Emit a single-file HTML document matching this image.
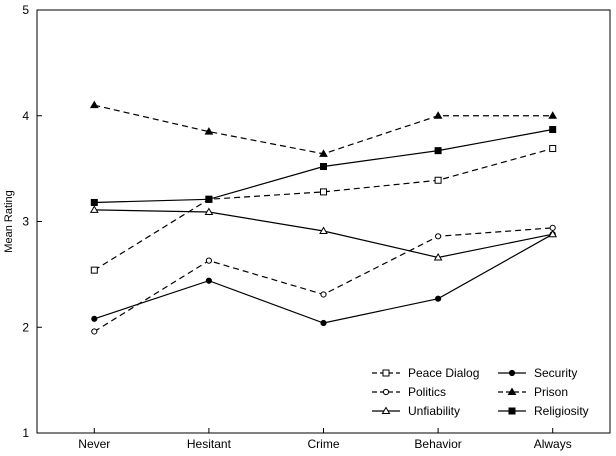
<!DOCTYPE html>
<html><head><meta charset="utf-8"><style>
html,body{margin:0;padding:0;background:#fff;}
svg{display:block;font-family:"Liberation Sans",Arial,sans-serif;}
</style></head><body>
<svg id="chart" width="616" height="456" viewBox="0 0 616 456" xmlns="http://www.w3.org/2000/svg"></svg>
<script>
const categories = ["Never","Hesitant","Crime","Behavior","Always"];
const yTicks = [1,2,3,4,5];
const peaceDialog = [2.54,3.21,3.28,3.39,3.69];
const security = [2.08,2.44,2.04,2.27,2.88];
const politics = [1.96,2.63,2.31,2.86,2.94];
const prison = [4.10,3.85,3.64,4.00,4.00];
const unfiability = [3.11,3.09,2.91,2.66,2.88];
const religiosity = [3.18,3.21,3.52,3.67,3.87];

const NS="http://www.w3.org/2000/svg";
const svg=document.getElementById('chart');
const L=37,R=610,T=10,B=433;
function x(i){return L+(i+0.5)*(R-L)/categories.length;}
function y(v){return B-(v-1)*(B-T)/4;}
function mk(tag,attrs,parent){const e=document.createElementNS(NS,tag);for(const k in attrs)e.setAttribute(k,attrs[k]);(parent||svg).appendChild(e);return e;}

const frame=mk('rect',{x:L,y:T,width:R-L,height:B-T,fill:'none',stroke:'#000','stroke-width':1});



yTicks.forEach(v=>{
  const t=mk('line',{x1:L,x2:L+5,y1:y(v),y2:y(v),stroke:'#000'});
  
  
  const lb=mk('text',{x:L-8,y:y(v)+4,'text-anchor':'end','font-size':12});
  lb.textContent=v;
  
  
});
categories.forEach((c,i)=>{
  const t=mk('line',{x1:x(i),x2:x(i),y1:B,y2:B-5,stroke:'#000'});
  
  
  const lb=mk('text',{x:x(i),y:B+15,'text-anchor':'middle','font-size':12});
  lb.textContent=c;
  
  
});
const yt=mk('text',{x:12,y:(T+B)/2,'text-anchor':'middle','font-size':11,transform:`rotate(-90 12 ${(T+B)/2})`});
yt.textContent='Mean Rating';



function marker(g,type,cx,cy){
  const fill=type.filled?'#000':'#fff';
  if(type.shape==='square') mk('rect',{x:cx-3,y:cy-3,width:6,height:6,fill,stroke:'#000'},g);
  else if(type.shape==='circle') mk('circle',{cx,cy,r:2.6,fill,stroke:'#000'},g);
  else mk('polygon',{points:`${cx},${cy-3.5} ${cx-3.5},${cy+2.5} ${cx+3.5},${cy+2.5}`,fill,stroke:'#000'},g);
}
const series=[
 {name:'Peace Dialog',data:peaceDialog,dash:true,shape:'square',filled:false,key:'peace-dialog'},
 {name:'Security',data:security,dash:false,shape:'circle',filled:true,key:'security'},
 {name:'Politics',data:politics,dash:true,shape:'circle',filled:false,key:'politics'},
 {name:'Prison',data:prison,dash:true,shape:'triangle',filled:true,key:'prison'},
 {name:'Unfiability',data:unfiability,dash:false,shape:'triangle',filled:false,key:'unfiability'},
 {name:'Religiosity',data:religiosity,dash:false,shape:'square',filled:true,key:'religiosity'}
];
series.forEach(s=>{
  const g=mk('g',{});
  
  
  const pts=s.data.map((v,i)=>x(i)+','+y(v)).join(' ');
  mk('polyline',{points:pts,fill:'none',stroke:'#000','stroke-width':1.2,'stroke-dasharray':s.dash?'6,4':'none'},g);
  s.data.forEach((v,i)=>marker(g,s,x(i),y(v)));
});

const lg=mk('g',{});


series.forEach((s,i)=>{
  const col=i%2, row=Math.floor(i/2);
  const lx=col?498:372, ly=373+row*19;
  const e=mk('g',{},lg);
  
  
  mk('line',{x1:lx,x2:lx+28,y1:ly,y2:ly,stroke:'#000','stroke-width':1.2,'stroke-dasharray':s.dash?'5,3':'none'},e);
  marker(e,s,lx+14,ly);
  const t=mk('text',{x:lx+36,y:ly+4,'font-size':12},e);
  t.textContent=s.name;
});
</script>
</body></html>
